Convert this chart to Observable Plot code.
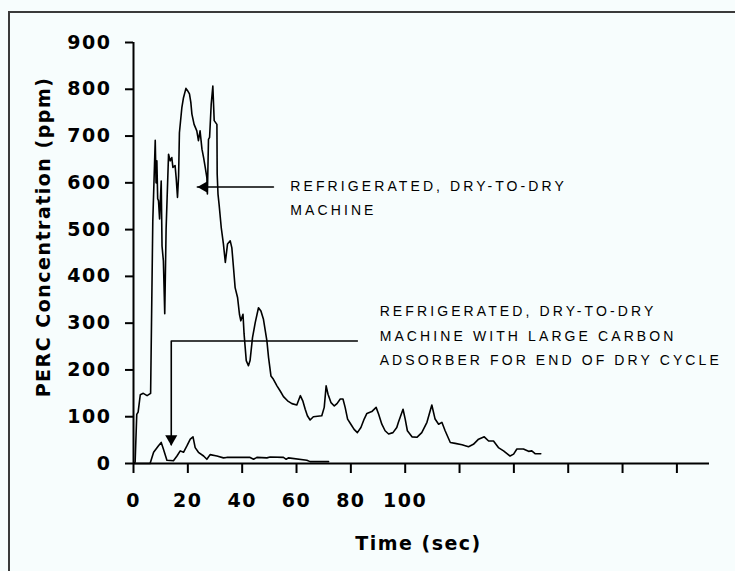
<!DOCTYPE html>
<html><head><meta charset="utf-8">
<script src="https://cdn.jsdelivr.net/npm/d3@7"></script>
<script src="https://cdn.jsdelivr.net/npm/@observablehq/plot@0.6"></script>
<style>
html,body{margin:0;padding:0;background:#f7fdfd;overflow:hidden;}
#wrap{position:relative;width:735px;height:571px;overflow:hidden;}
#border{position:absolute;left:8px;top:11px;width:760px;height:600px;border-left:2px solid #3a3a3a;border-top:2px solid #3a3a3a;pointer-events:none;}
svg text{letter-spacing:1.5px;}
svg g[font-family="Liberation Sans"] text{letter-spacing:3.1px;}
</style></head>
<body><div id="wrap"></div>
<script>
// Refrigerated dry-to-dry machine (time in sec, PERC ppm)
const mainTime = [0,0.6,1.2,1.7,2.5,3.6,5.0,6.3,7.1,8.0,8.3,8.6,8.9,9.2,9.6,10.2,10.5,11.0,11.5,12.0,12.9,13.5,14.1,14.5,15.3,15.7,16.2,16.6,16.9,17.8,18.4,19.3,19.9,20.6,21.1,21.5,22.3,23.3,23.9,24.5,25.2,25.8,26.4,27.0,27.2,27.6,28.0,28.6,29.2,29.7,30.7,30.8,31.1,31.5,32.3,33.1,33.8,34.6,35.6,36.2,36.8,37.4,38.3,39.0,39.5,40.3,40.7,41.5,42.3,42.9,43.8,44.8,46.0,46.9,47.8,49.1,49.7,50.6,51.5,52.8,54.0,55.2,56.7,58.3,60.1,61.4,62.3,63.2,64.0,65.0,66.2,69.3,70.2,70.9,71.6,72.7,73.9,74.9,76.1,77.1,77.9,78.8,80.0,81.2,82.4,83.7,84.9,85.9,87.7,89.3,90.2,91.4,92.6,93.9,95.5,96.9,97.5,99.2,100.0,100.8,102.5,104.3,106.1,108.0,109.8,111.0,112.3,113.5,114.7,116.6,118.4,120.9,123.3,125.1,127.0,129.1,130.7,132.5,134.3,136.2,138.6,139.9,141.1,143.5,145.4,146.6,147.8,149.9];
const mainPerc = [0,3,105,110,147,150,145,150,518,691,600,647,566,562,523,604,465,433,320,501,661,647,654,633,637,611,569,615,707,761,782,802,797,790,772,747,725,711,690,711,672,654,633,611,576,693,697,768,807,733,725,619,576,554,504,469,430,469,476,461,419,376,355,319,305,319,277,220,209,220,269,301,333,326,309,262,227,187,180,166,155,143,134,128,125,145,134,116,102,93,100,102,120,166,148,130,123,128,138,138,120,95,84,73,66,77,95,107,111,120,106,84,70,63,66,77,88,116,95,70,57,56,66,88,125,95,84,88,70,45,43,40,36,41,52,57,48,48,34,27,16,20,31,31,26,27,21,21];
// Same machine with large carbon adsorber for end of dry cycle
const carbonTime = [0,6.1,7.4,9.2,10.2,11.0,12.3,14.7,16.0,17.2,18.4,19.7,20.9,21.9,22.7,23.9,25.8,27.0,28.2,30.7,33.1,34.3,38.1,42.9,44.2,45.4,49.1,50.3,55.2,56.2,57.0,63.8,65.0,71.8];
const carbonPerc = [0,0,24,38,45,31,7,6,16,27,24,38,52,57,34,24,16,9,19,16,12,13,13,13,9,13,12,14,13,9,12,7,4,4];

const xDomain = [0, 212];
const yDomain = [0, 900];
const xTicks = [0,20,40,60,80,100,120,140,160,180,200];
const xTickLabels = ["0","20","40","60","80","100"];
const yTicks = [0,100,200,300,400,500,600,700,800,900];
const xLabel = "Time (sec)";
const yLabel = "PERC Concentration (ppm)";

// Annotations (data units)
const noteText = ["REFRIGERATED, DRY-TO-DRY","MACHINE","REFRIGERATED, DRY-TO-DRY","MACHINE WITH LARGE CARBON","ADSORBER FOR END OF DRY CYCLE"];
const noteTime = [57.7,57.7,90.6,90.6,90.6];
const notePerc = [593,540,324,271,220];
const arrow1Time = [51.5,23.5];
const arrow1Perc = [591,591];
const arrow2Time = [82.4,13.9,13.9];
const arrow2Perc = [262,262,40];
const headTime = [26.1,13.9];
const headPerc = [591,52.8];
const headAngle = [-90,180];

const mainRows = mainTime.map((t,i)=>({t, v: mainPerc[i]}));
const carbonRows = carbonTime.map((t,i)=>({t, v: carbonPerc[i]}));
const notes = noteText.map((s,i)=>({s, t: noteTime[i], v: notePerc[i]}));
const a1 = arrow1Time.map((t,i)=>({t, v: arrow1Perc[i]}));
const a2 = arrow2Time.map((t,i)=>({t, v: arrow2Perc[i]}));
const heads = headTime.map((t,i)=>({t, v: headPerc[i], a: headAngle[i]}));

const chart = Plot.plot({
  width: 735, height: 571,
  marginLeft: 133, marginRight: 26, marginTop: 42, marginBottom: 108,
  style: {fontFamily: "'DejaVu Sans'", fontSize: "19px", fontWeight: "bold", background: "transparent", color: "black", overflow: "visible"},
  x: {domain: xDomain, label: null},
  y: {domain: yDomain, label: null},
  marks: [
    Plot.axisX({ticks: xTicks, tickSize: 10, tickPadding: 20, strokeWidth: 2, tickFormat: (d,i) => xTickLabels[i] ?? "", label: null}),
    Plot.axisY({ticks: yTicks, tickSize: 8, tickPadding: 14, strokeWidth: 2, label: null}),
    Plot.ruleX([xDomain[0]], {y1: yDomain[0], y2: yDomain[1], strokeWidth: 2}),
    Plot.ruleY([yDomain[0]], {x1: xDomain[0], x2: xDomain[1], strokeWidth: 2}),
    Plot.line(carbonRows, {x: "t", y: "v", stroke: "black", strokeWidth: 1.6}),
    Plot.line(mainRows, {x: "t", y: "v", stroke: "black", strokeWidth: 1.6}),
    Plot.line(a1, {x: "t", y: "v", stroke: "black", strokeWidth: 1.6}),
    Plot.line(a2, {x: "t", y: "v", stroke: "black", strokeWidth: 1.6}),
    Plot.dot(heads, {x: "t", y: "v", symbol: "triangle", r: 4.5, fill: "black", stroke: "none", rotate: "a"}),
    Plot.text(notes, {x: "t", y: "v", text: "s", textAnchor: "start", lineAnchor: "middle", fontFamily: "Liberation Sans", fontSize: 14, fontWeight: "normal", fill: "black"}),
    Plot.text([yLabel], {frameAnchor: "left", rotate: -90, dx: -90, dy: -16, textAnchor: "middle", lineAnchor: "middle", fill: "black"}),
    Plot.text([xLabel], {frameAnchor: "bottom", dx: -3, dy: 80, textAnchor: "middle", lineAnchor: "middle", fill: "black"})
  ]
});
const wrap = document.getElementById("wrap");
wrap.appendChild(chart);
const b = document.createElement("div"); b.id = "border"; wrap.appendChild(b);
</script>
</body></html>
